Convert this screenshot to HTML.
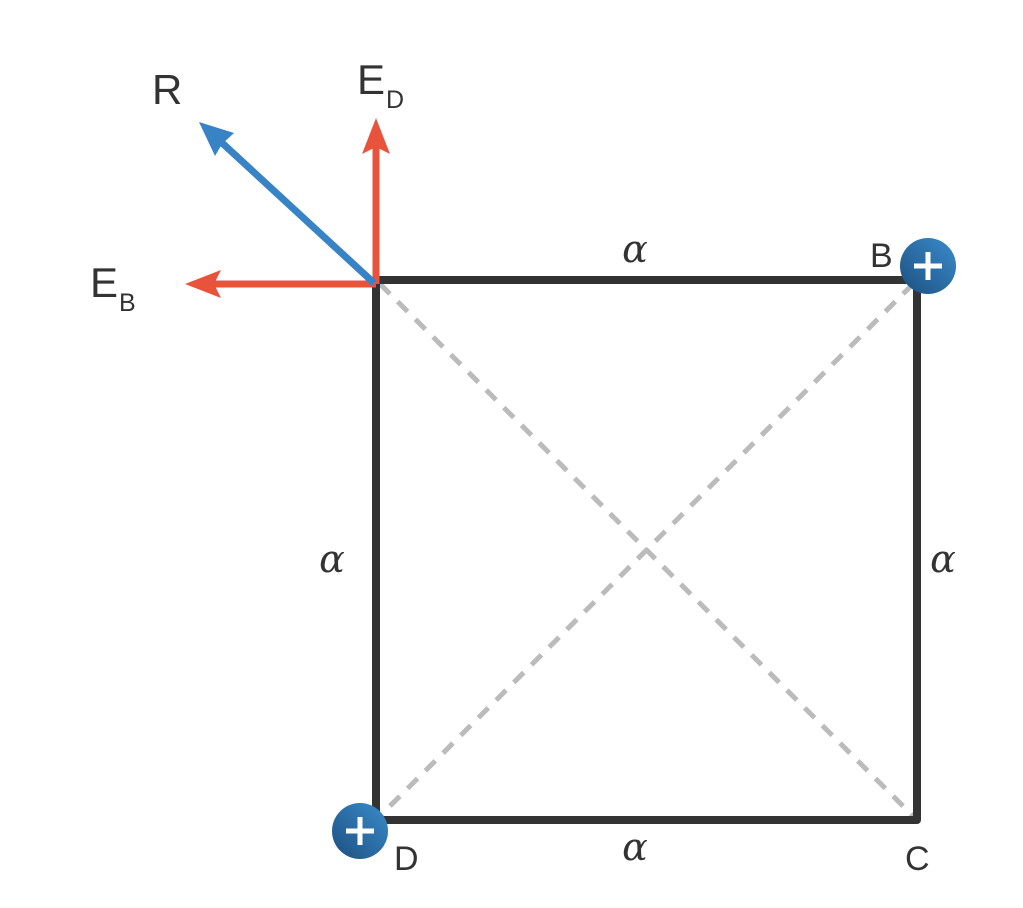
<!DOCTYPE html>
<html><head><style>html,body{margin:0;padding:0;background:#fff}</style></head>
<body>
<svg width="1023" height="903" viewBox="0 0 1023 903" xmlns="http://www.w3.org/2000/svg">
<defs>
<linearGradient id="g" x1="1" y1="0" x2="0" y2="1">
<stop offset="0" stop-color="#3a8ccc"/><stop offset="1" stop-color="#1d4f80"/>
</linearGradient>
</defs>
<g stroke="#bbb" stroke-width="5" stroke-dasharray="14,11">
<line x1="380" y1="284" x2="913" y2="816"/>
<line x1="913" y1="284" x2="380" y2="816"/>
</g>
<rect x="376" y="280" width="541" height="540" fill="none" stroke="#333" stroke-width="8" stroke-linejoin="round"/>
<g font-family="DejaVu Serif, serif" font-style="italic" font-size="38" fill="#333" text-anchor="middle">
<text x="635" y="262">α</text>
<text x="635" y="860">α</text>
<text x="332" y="572">α</text>
<text x="943" y="572">α</text>
</g>
<line x1="376" y1="284" x2="376" y2="145" stroke="#e9533c" stroke-width="7"/>
<polygon points="376,118 362,154 376,147 390,154" fill="#e9533c"/>
<line x1="376" y1="284" x2="212" y2="284" stroke="#e9533c" stroke-width="7"/>
<polygon points="185,284 221,270 214,284 221,298" fill="#e9533c"/>
<line x1="374" y1="283" x2="220" y2="141" stroke="#3783c6" stroke-width="7"/>
<polygon points="199,122 234,133 222,144 215,156" fill="#3783c6"/>
<g font-family="Liberation Sans, sans-serif" fill="#333">
<text x="152" y="104" font-size="42">R</text>
<text x="357" y="94" font-size="42">E</text><text x="386" y="108" font-size="25">D</text>
<text x="90" y="297" font-size="42">E</text><text x="119" y="311" font-size="25">B</text>
<text x="870" y="267" font-size="34">B</text>
<text x="394" y="870" font-size="34">D</text>
<text x="905" y="870" font-size="34">C</text>
</g>
<g>
<circle cx="928" cy="266" r="28" fill="url(#g)"/>
<path d="M928 252v28M914 266h28" stroke="#fff" stroke-width="5"/>
<circle cx="360" cy="831" r="28" fill="url(#g)"/>
<path d="M360 817v28M346 831h28" stroke="#fff" stroke-width="5"/>
</g>
</svg>
</body></html>
